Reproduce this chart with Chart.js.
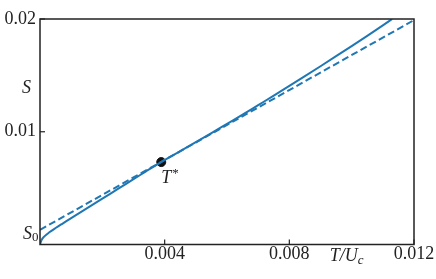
<!DOCTYPE html>
<html>
<head>
<meta charset="utf-8">
<script src="https://cdn.jsdelivr.net/npm/chart.js@4"></script>
<style>
  html, body { margin: 0; padding: 0; background: #fff; }
  #wrap { width: 436px; height: 279px; }
</style>
</head>
<body>
<div id="wrap"><canvas id="myChart"></canvas></div>
<script>
// solid curve S(T)
let curveT = [0, 0.00005, 0.00015, 0.0003, 0.0005, 0.00075, 0.001, 0.0015, 0.002, 0.0025, 0.003, 0.0035,
  0.00389, 0.0045, 0.005, 0.0055, 0.006, 0.0065, 0.007, 0.0075, 0.008, 0.0085, 0.009, 0.0095, 0.01, 0.0105, 0.011, 0.0113];
let curveS = [0, 0.0004, 0.00074, 0.00108, 0.00146, 0.0019, 0.00234, 0.0032, 0.00406, 0.00493, 0.00579, 0.00666,
  0.00731, 0.00828, 0.00908, 0.00988, 0.0107, 0.01152, 0.01236, 0.0132, 0.01406, 0.01493, 0.01581, 0.0167, 0.0176, 0.01851, 0.01943, 0.02];
// dashed asymptote
let asymT = [0, 0.012];
let asymS = [0.0013, 0.0199];
// marked point T*
let starT = [0.00389];
let starS = [0.00731];

let xTicks = [0.004, 0.008, 0.012];
let yTicks = [0.01, 0.02];
let s0Value = 0.0013;

let blue = "#1f77b4";
let serif = '"Liberation Serif", "DejaVu Serif", serif';

function toPoints(xs, ys) {
  return xs.map((x, i) => ({x: x, y: ys[i]}));
}

function fmt(v) {
  return String(+v.toFixed(3));
}

let framePlugin = {
  id: "frame",
  afterDraw(chart) {
    let ctx = chart.ctx;
    let a = chart.chartArea;
    let xs = chart.scales.x;
    let ys = chart.scales.y;
    ctx.save();
    ctx.strokeStyle = "#222";
    ctx.lineWidth = 1.5;
    ctx.strokeRect(a.left, a.top, a.right - a.left, a.bottom - a.top);
    // inward ticks
    ctx.lineWidth = 1.2;
    xTicks.forEach(v => {
      let px = xs.getPixelForValue(v);
      ctx.beginPath(); ctx.moveTo(px, a.bottom); ctx.lineTo(px, a.bottom - 5); ctx.stroke();
    });
    yTicks.forEach(v => {
      let py = ys.getPixelForValue(v);
      ctx.beginPath(); ctx.moveTo(a.left, py); ctx.lineTo(a.left + 5, py); ctx.stroke();
    });

    ctx.fillStyle = "#222";
    ctx.textBaseline = "middle";
    // S0 label
    let py0 = ys.getPixelForValue(s0Value) + 4;
    ctx.font = "italic 18px " + serif;
    ctx.textAlign = "right";
    ctx.fillText("S", a.left - 8, py0);
    ctx.textAlign = "left";
    ctx.font = "13px " + serif;
    ctx.fillText("0", a.left - 8, py0 + 4);
    // S axis label
    ctx.textAlign = "right";
    ctx.font = "italic 18px " + serif;
    ctx.fillText("S", a.left - 9, ys.getPixelForValue(0.0139));
    // T/Uc axis label
    ctx.textAlign = "left";
    let lx = xs.getPixelForValue(0.0093);
    let ly = a.bottom + 12;
    ctx.fillText("T/U", lx, ly);
    let w = ctx.measureText("T/U").width;
    ctx.font = "italic 13px " + serif;
    ctx.fillText("c", lx + w, ly + 4);
    // T* label
    let tx = xs.getPixelForValue(starT[0]);
    let ty = ys.getPixelForValue(starS[0]);
    ctx.font = "italic 18px " + serif;
    ctx.fillText("T", tx, ty + 16);
    let tw = ctx.measureText("T").width;
    ctx.font = "13px " + serif;
    ctx.fillText("*", tx + tw + 1, ty + 11);
    ctx.restore();
  }
};

new Chart("myChart", {
  type: "scatter",
  data: {
    datasets: [
      {
        data: toPoints(asymT, asymS),
        showLine: true,
        borderColor: blue,
        borderWidth: 2,
        borderDash: [7, 3.5],
        pointRadius: 0
      },
      {
        data: toPoints(curveT, curveS),
        showLine: true,
        borderColor: blue,
        borderWidth: 2,
        cubicInterpolationMode: "monotone",
        pointRadius: 0
      },
      {
        data: toPoints(starT, starS),
        backgroundColor: "#111",
        borderColor: "#111",
        pointRadius: 4.5
      }
    ]
  },
  options: {
    responsive: true,
    maintainAspectRatio: false,
    animation: false,
    layout: { padding: { top: 19, right: 22, left: 0, bottom: 0 } },
    plugins: {
      legend: { display: false },
      tooltip: { enabled: false }
    },
    scales: {
      x: {
        type: "linear",
        min: 0,
        max: 0.012,
        afterBuildTicks: s => { s.ticks = xTicks.map(v => ({value: v})); },
        afterFit: s => { s.height = 34.5; },
        grid: { display: false, drawTicks: false },
        border: { display: false },
        ticks: {
          callback: v => fmt(v),
          color: "#222",
          padding: -1,
          maxRotation: 0,
          font: { family: serif, size: 18 }
        }
      },
      y: {
        type: "linear",
        min: 0,
        max: 0.02,
        afterBuildTicks: s => { s.ticks = yTicks.map(v => ({value: v})); },
        afterFit: s => { s.width = 40; },
        grid: { display: false, drawTicks: false },
        border: { display: false },
        ticks: {
          callback: v => fmt(v),
          color: "#222",
          padding: 4,
          font: { family: serif, size: 18 }
        }
      }
    }
  },
  plugins: [framePlugin]
});
</script>
</body>
</html>
